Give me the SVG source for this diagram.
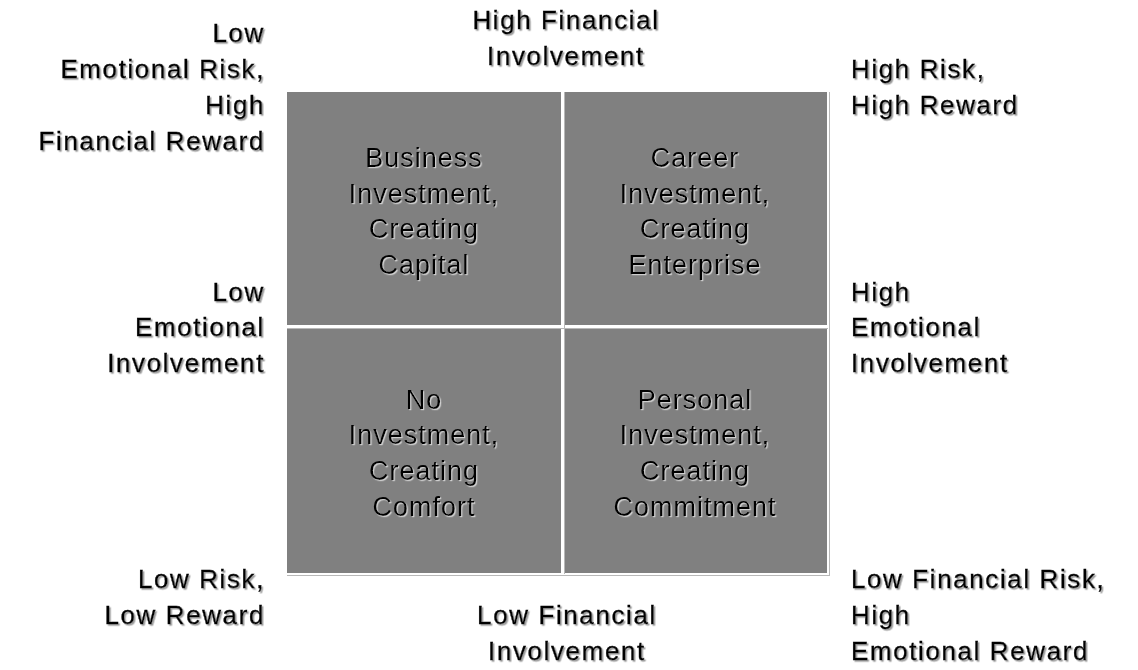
<svg xmlns="http://www.w3.org/2000/svg" width="1138" height="670" viewBox="0 0 1138 670">
<defs>
<filter id="shOut" x="-10%" y="-30%" width="120%" height="160%">
<feDropShadow dx="1.5" dy="1.5" stdDeviation="0.4" flood-color="#9a9a9a"/>
</filter>
<filter id="shIn" x="-10%" y="-30%" width="120%" height="160%">
<feDropShadow dx="1.2" dy="1.2" stdDeviation="0.3" flood-color="#cfcfcf"/>
</filter>
<style>
.cell{fill:#808080;}
.t{font-family:"Liberation Sans",Arial,sans-serif;font-size:26px;fill:#000;}
.in{text-anchor:middle;filter:url(#shIn);font-size:27px;letter-spacing:1px;}
.out{filter:url(#shOut);letter-spacing:1.6px;stroke:#000;stroke-width:0.35px;}
.r{text-anchor:end;}
.c{text-anchor:middle;}
.s{text-anchor:start;}
</style>
</defs>
<rect width="1138" height="670" fill="#ffffff"/>

<g id="grid">
<rect id="q-tl" class="cell" x="287" y="92" width="274" height="233"/>
<rect id="q-tr" class="cell" x="564" y="92" width="263" height="233"/>
<rect id="q-bl" class="cell" x="287" y="328" width="274" height="245"/>
<rect id="q-br" class="cell" x="564" y="328" width="263" height="245"/>
</g>
<g id="connectors" stroke="#b8b8b8" stroke-width="1" fill="none">
<line x1="564.5" y1="92" x2="564.5" y2="574"/>
<line x1="287" y1="328.5" x2="828" y2="328.5"/>
<line x1="829.5" y1="92" x2="829.5" y2="576"/>
<line x1="287" y1="575.5" x2="830" y2="575.5"/>
</g>

<g id="node-business" class="t in">
<text x="424" y="167">Business</text>
<text x="424" y="203">Investment,</text>
<text x="424" y="238">Creating</text>
<text x="424" y="274">Capital</text>
</g>
<g id="node-career" class="t in">
<text x="695" y="167">Career</text>
<text x="695" y="203">Investment,</text>
<text x="695" y="238">Creating</text>
<text x="695" y="274">Enterprise</text>
</g>
<g id="node-no" class="t in">
<text x="424" y="409">No</text>
<text x="424" y="444">Investment,</text>
<text x="424" y="480">Creating</text>
<text x="424" y="516">Comfort</text>
</g>
<g id="node-personal" class="t in">
<text x="695" y="409">Personal</text>
<text x="695" y="444">Investment,</text>
<text x="695" y="480">Creating</text>
<text x="695" y="516">Commitment</text>
</g>

<g id="label-top" class="t out c">
<text x="566" y="29">High Financial</text>
<text x="566" y="65">Involvement</text>
</g>
<g id="label-bottom" class="t out c">
<text x="567" y="624">Low Financial</text>
<text x="567" y="660">Involvement</text>
</g>
<g id="label-topleft" class="t out r">
<text x="265" y="42">Low</text>
<text x="265" y="78">Emotional Risk,</text>
<text x="265" y="114">High</text>
<text x="265" y="150">Financial Reward</text>
</g>
<g id="label-left" class="t out r">
<text x="265" y="301">Low</text>
<text x="265" y="336">Emotional</text>
<text x="265" y="372">Involvement</text>
</g>
<g id="label-bottomleft" class="t out r">
<text x="265" y="588">Low Risk,</text>
<text x="265" y="624">Low Reward</text>
</g>
<g id="label-topright" class="t out s">
<text x="851" y="78">High Risk,</text>
<text x="851" y="114">High Reward</text>
</g>
<g id="label-right" class="t out s">
<text x="851" y="301">High</text>
<text x="851" y="336">Emotional</text>
<text x="851" y="372">Involvement</text>
</g>
<g id="label-bottomright" class="t out s">
<text x="851" y="588">Low Financial Risk,</text>
<text x="851" y="624">High</text>
<text x="851" y="660">Emotional Reward</text>
</g>
</svg>
